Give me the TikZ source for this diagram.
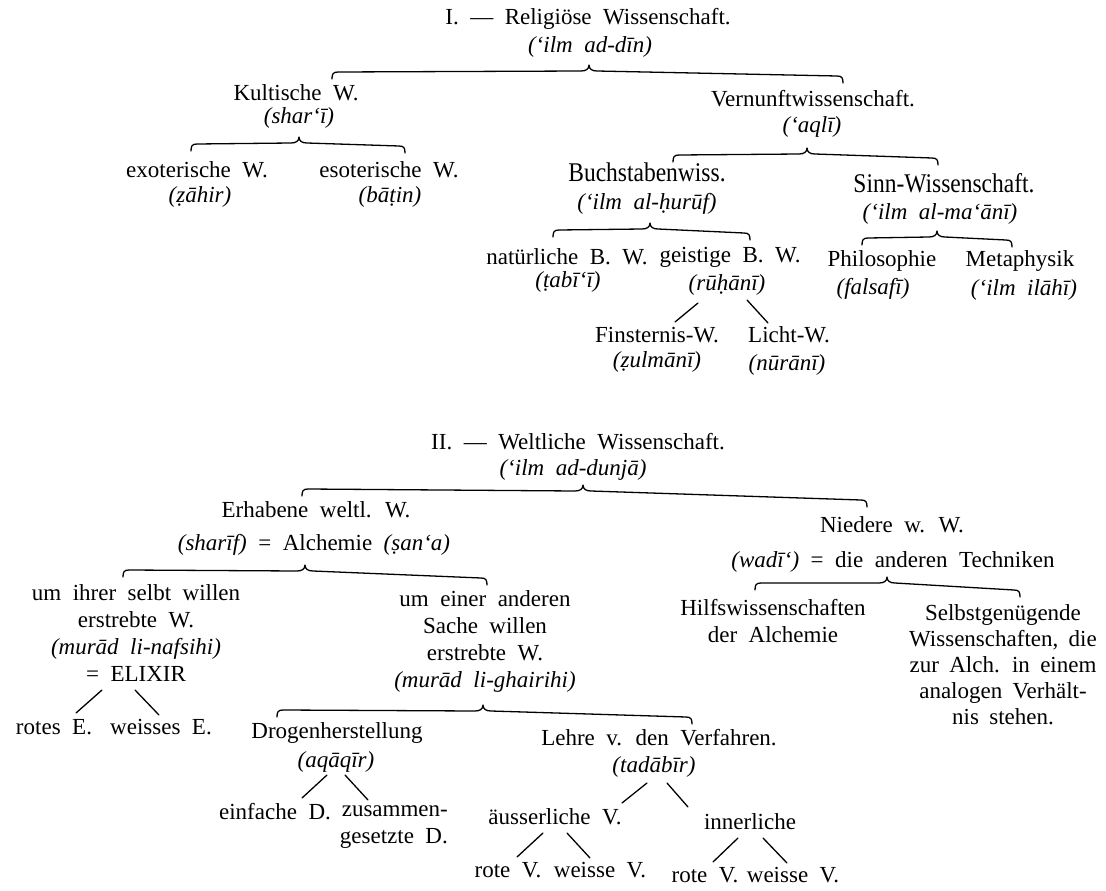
\documentclass[tikz,border=0pt]{standalone}
\usepackage{graphicx}
\usepackage{fontspec}
\setmainfont{Liberation Serif}
\newcommand\nf{\fontsize{23}{27}\selectfont\spaceskip=0.5em plus 0.1em minus 0.1em\relax}
\newcommand\nfs{\fontsize{23}{26}\selectfont\spaceskip=0.45em plus 0.1em minus 0.1em\relax}
\newcommand\bigc[1]{\scalebox{0.87}[1]{\fontsize{27}{30}\selectfont #1}}
% horizontal brace: xL, yL (line), xT, yT (tip top), xR, yR (line)
\newcommand\hbr[6]{\draw[brc] (#1,#2+7) .. controls (#1,#2+2) and (#1+1,#2) .. (#1+6,#2) -- (#3-8,#4+6) .. controls (#3-3,#4+6) and (#3,#4+4) .. (#3,#4) .. controls (#3,#4+4) and (#3+3,#4+6) .. (#3+8,#4+6) -- (#5-6,#6) .. controls (#5-1,#6) and (#5,#6+2) .. (#5,#6+7);}
\begin{document}
\begin{tikzpicture}[x=1pt,y=-1pt,
  every node/.style={inner sep=0pt,font=\nf},
  brc/.style={line width=1.3pt,line cap=round,line join=round},
  twig/.style={line width=1.3pt,line cap=round}]
\fill[white] (0,0) rectangle (1106,891);
\useasboundingbox (0,0) rectangle (1106,891);

% ---------- I ----------
\node (t1)  at (588,19) {I. — Religiöse Wissenschaft.};
\node (t1a) at (590,47) {\itshape(‘ilm ad-dīn)};
\hbr{332}{72}{589}{65}{843}{76}

\node (kult)  at (296,93)  {Kultische W.};
\node (kulta) at (299,118) {\itshape(shar‘ī)};
\hbr{191}{144}{299}{137}{405}{146}
\node (exo)  at (197,170) {exoterische W.};
\node (exoa) at (200,197) {\itshape(ẓāhir)};
\node (eso)  at (389,170) {esoterische W.};
\node (esoa) at (390,197) {\itshape(bāṭin)};

\node (vern)  at (813,99)  {Vernunftwissenschaft.};
\node (verna) at (812,127) {\itshape(‘aqlī)};
\hbr{673}{155}{807}{148}{938}{158}
\node (buch)  at (647,172) {\bigc{Buchstabenwiss.}};
\node (bucha) at (647,204) {\itshape(‘ilm al-ḥurūf)};
\node (sinn)  at (944,183) {\bigc{Sinn-Wissenschaft.}};
\node (sinna) at (940,214) {\itshape(‘ilm al-ma‘ānī)};

\hbr{553}{230}{650}{223}{750}{233}
\node (nat)   at (567,257) {natürliche B. W.};
\node (nata)  at (568,282) {\itshape(ṭabī‘ī)};
\node (geist) at (730,257) {geistige B. W.};
\node (geista) at (727,285) {\itshape(rūḥānī)};
\coordinate (g1) at (698,303); \coordinate (g2) at (675,322);
\coordinate (g3) at (747,300); \coordinate (g4) at (768,323);
\draw[twig] (g1) -- (g2);
\draw[twig] (g3) -- (g4);
\node (fin)   at (657,335) {Finsternis-W.};
\node (fina)  at (657,362) {\itshape(ẓulmānī)};
\node (licht) at (789,335) {Licht-W.};
\node (lichta) at (787,365) {\itshape(nūrānī)};

\hbr{862}{238}{937}{231}{1012}{240}
\node (phil)  at (882,261) {Philosophie};
\node (phila) at (873,289) {\itshape(falsafī)};
\node (meta)  at (1020,261) {Metaphysik};
\node (metaa) at (1024,290) {\itshape(‘ilm ilāhī)};

% ---------- II ----------
\node (t2)  at (578,442) {II. — Weltliche Wissenschaft.};
\node (t2a) at (573,470) {\itshape(‘ilm ad-dunjā)};
\hbr{302}{489}{583}{485}{867}{500}

\node (erh)  at (316,510) {Erhabene weltl. W.};
\node (erha) at (314,545) {{\itshape(sharīf)} = Alchemie {\itshape(ṣan‘a)}};
\hbr{123}{570}{305}{565}{487}{578}

\node[align=center] (um1) at (136,633) {um ihrer selbt willen\\erstrebte W.\\{\itshape(murād li-nafsihi)}\\= ELIXIR};
\coordinate (e1) at (102,690); \coordinate (e2) at (76,713);
\coordinate (e3) at (135,690); \coordinate (e4) at (159,715);
\draw[twig] (e1) -- (e2);
\draw[twig] (e3) -- (e4);
\node (rotE)   at (54,727)  {rotes E.};
\node (weissE) at (161,727) {weisses E.};

\node[align=center] (um2) at (485,641) {um einer anderen\\Sache willen\\erstrebte W.\\{\itshape(murād li-ghairihi)}};
\hbr{277}{710}{483}{705}{692}{717}

\node (drog)  at (337,733) {Drogenherstellung};
\node (droga) at (336,762) {\itshape(aqāqīr)};
\coordinate (d1) at (327,775); \coordinate (d2) at (302,798);
\coordinate (d3) at (345,775); \coordinate (d4) at (368,800);
\draw[twig] (d1) -- (d2);
\draw[twig] (d3) -- (d4);
\node (einf) at (275,812) {einfache D.};
\node[align=right,anchor=east] (zus) at (448,827) {zusammen-\\gesetzte D.};

\node (lehre)  at (659,738) {Lehre v. den Verfahren.};
\node (lehrea) at (654,767) {\itshape(tadābīr)};
\coordinate (l1) at (647,783); \coordinate (l2) at (622,803);
\coordinate (l3) at (667,783); \coordinate (l4) at (688,807);
\draw[twig] (l1) -- (l2);
\draw[twig] (l3) -- (l4);
\node (aeuss) at (555,817) {äusserliche V.};
\node (inner) at (750,822) {innerliche};
\coordinate (a1) at (543,833); \coordinate (a2) at (517,857);
\coordinate (a3) at (567,833); \coordinate (a4) at (590,858);
\draw[twig] (a1) -- (a2);
\draw[twig] (a3) -- (a4);
\coordinate (i1) at (738,838); \coordinate (i2) at (713,862);
\coordinate (i3) at (763,838); \coordinate (i4) at (787,863);
\draw[twig] (i1) -- (i2);
\draw[twig] (i3) -- (i4);
\node (rv1) at (508,870) {rote V.};
\node (wv1) at (600,870) {weisse V.};
\node (rv2) at (705,875) {rote V.};
\node (wv2) at (793,875) {weisse V.};

\node (nied)  at (892,525) {Niedere w. W.};
\node (nieda) at (893,562) {{\itshape(wadī‘)} = die anderen Techniken};
\hbr{755}{583}{887}{577}{1020}{590}
\node[align=center] (hilf) at (773,621) {Hilfswissenschaften\\der Alchemie};
\node[align=center,font=\nfs] (selbst) at (1003,665) {Selbstgenügende\\Wissenschaften, die\\zur Alch. in einem\\analogen Verhält-\\nis stehen.};
\end{tikzpicture}
\end{document}
